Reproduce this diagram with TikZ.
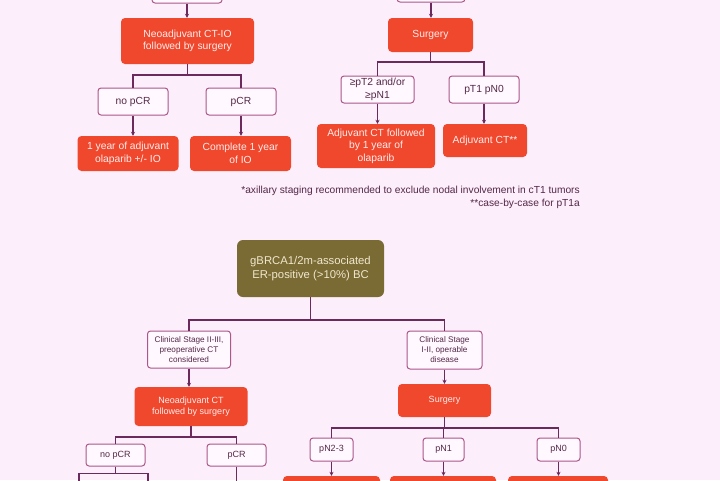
\documentclass[tikz,border=0pt]{standalone}
\usepackage{fontspec}
\setmainfont{Liberation Sans}
\usetikzlibrary{arrows.meta}
\definecolor{bgc}{RGB}{252,238,250}
\definecolor{redc}{RGB}{240,72,45}
\definecolor{bordc}{RGB}{172,86,138}
\definecolor{linec}{RGB}{108,42,92}
\definecolor{olivec}{RGB}{122,106,52}
\definecolor{olivetxt}{RGB}{240,232,205}
\definecolor{wtxt}{RGB}{84,40,72}
\definecolor{wfill}{RGB}{255,248,254}
\definecolor{rtxt}{RGB}{255,236,236}
\tikzset{
  wbox/.style={draw=bordc, fill=wfill, rounded corners=3pt, line width=1pt, text=wtxt, align=center, inner sep=0pt},
  rbox/.style={fill=redc, rounded corners=4pt, text=rtxt, align=center, inner sep=0pt},
  obox/.style={fill=olivec, rounded corners=6pt, text=olivetxt, align=center, inner sep=0pt},
  conn/.style={draw=linec, line width=1.5pt},
  arr/.style={conn, -{Stealth[length=4pt,width=4pt]}},
  ftop/.style={font=\fontsize{10.3}{12.6}\selectfont},
  folive/.style={font=\fontsize{11.3}{14}\selectfont},
  fcl/.style={font=\fontsize{8.2}{10}\selectfont},
  fbot/.style={font=\fontsize{9}{11}\selectfont},
  fn/.style={font=\fontsize{10.2}{13}\selectfont, text=wtxt, align=right, inner sep=0pt}
}
\begin{document}
\begin{tikzpicture}[x=1pt,y=-1pt]
\useasboundingbox (0,0) rectangle (720,480);
\clip (0,0) rectangle (720,480);
\fill[bgc] (0,0) rectangle (720,480);
% ---------- top tree ----------
\node[wbox, minimum width=70pt, minimum height=26pt] (T1) at (187,-10) {};
\node[wbox, minimum width=68pt, minimum height=26pt] (T2) at (431,-11) {};
\node[rbox, ftop, minimum width=133pt, minimum height=46pt] (A) at (187.5,41) {Neoadjuvant CT-IO\\followed by surgery};
\node[rbox, ftop, minimum width=85pt, minimum height=34pt] (B) at (430.5,35) {Surgery};
\node[wbox, ftop, minimum width=70pt, minimum height=27pt] (A1) at (133,101.5) {no pCR};
\node[wbox, ftop, minimum width=70pt, minimum height=27pt] (A2) at (241,101.5) {pCR};
\node[rbox, ftop, minimum width=101pt, minimum height=35pt] (A1c) at (128,153.5) {1 year of adjuvant\\olaparib +/- IO};
\node[rbox, ftop, minimum width=101pt, minimum height=35pt] (A2c) at (240.5,153.5) {Complete 1 year\\of IO};
\node[wbox, ftop, minimum width=73pt, minimum height=27pt] (B1) at (377.5,89.5) {≥pT2 and/or\\≥pN1};
\node[wbox, ftop, minimum width=70pt, minimum height=27pt] (B2) at (484,89.5) {pT1 pN0};
\node[rbox, ftop, minimum width=118pt, minimum height=44pt] (B1c) at (376,146) {Adjuvant CT followed\\by 1 year of\\olaparib};
\node[rbox, ftop, minimum width=84pt, minimum height=33pt] (B2c) at (485,140.5) {Adjuvant CT**};
\draw[arr] (T1.south) -- (T1.south |- A.north);
\draw[arr] (T2.south) -- (T2.south |- B.north);
\draw[conn] (A.south) -- ++(0,11) -| (A1.north);
\draw[conn] (A.south) -- ++(0,11) -| (A2.north);
\draw[conn] (B.south) -- ++(0,10) -| (B1.north);
\draw[conn] (B.south) -- ++(0,10) -| (B2.north);
\draw[arr] (A1.south) -- (A1.south |- A1c.north);
\draw[arr] (A2.south) -- (A2.south |- A2c.north);
\draw[arr] (B1.south) -- (B1.south |- B1c.north);
\draw[arr] (B2.south) -- (B2.south |- B2c.north);
% footnotes
\node[fn, anchor=north east] (fnote) at (580,186) {*axillary staging recommended to exclude nodal involvement in cT1 tumors\\**case-by-case for pT1a};
% ---------- bottom tree ----------
\node[obox, folive, minimum width=147pt, minimum height=57pt] (C) at (310.5,268.5) {gBRCA1/2m-associated\\ER-positive (>10\%) BC};
\node[wbox, fcl, minimum width=83pt, minimum height=37pt] (C1) at (189,349.5) {Clinical Stage II-III,\\preoperative CT\\considered};
\node[wbox, fcl, minimum width=75pt, minimum height=38pt] (C2) at (444.5,350) {Clinical Stage\\I-II, operable\\disease};
\node[rbox, fbot, minimum width=113pt, minimum height=39pt] (D) at (191,406.5) {Neoadjuvant CT\\followed by surgery};
\node[rbox, fbot, minimum width=93pt, minimum height=33pt] (E) at (444.5,400.5) {Surgery};
\node[wbox, fbot, minimum width=59pt, minimum height=22pt] (D1) at (115.5,455) {no pCR};
\node[wbox, fbot, minimum width=59pt, minimum height=22pt] (D2) at (236.5,455) {pCR};
\node[wbox, fbot, minimum width=43pt, minimum height=23pt] (E1) at (331.5,449.5) {pN2-3};
\node[wbox, fbot, minimum width=41pt, minimum height=23pt] (E2) at (443.5,449.5) {pN1};
\node[wbox, fbot, minimum width=43pt, minimum height=23pt] (E3) at (558.5,449.5) {pN0};
\node[rbox, minimum width=97pt, minimum height=30pt] (E1c) at (331.5,491) {};
\node[rbox, minimum width=106pt, minimum height=30pt] (E2c) at (443,491) {};
\node[rbox, minimum width=100pt, minimum height=30pt] (E3c) at (558,491) {};
\coordinate (d1l) at (79,495);
\coordinate (d1r) at (148,495);
\coordinate (d2b) at (236.5,495);
\draw[conn] (C.south) -- ++(0,23) -| (C1.north);
\draw[conn] (C.south) -- ++(0,23) -| (C2.north);
\draw[arr] (C1.south) -- (C1.south |- D.north);
\draw[arr] (C2.south) -- (C2.south |- E.north);
\draw[conn] (D.south) -- ++(0,11) -| (D1.north);
\draw[conn] (D.south) -- ++(0,11) -| (D2.north);
\draw[conn] (E.south) -- ++(0,11) -| (E1.north);
\draw[conn] (E.south) -- ++(0,11) -| (E2.north);
\draw[conn] (E.south) -- ++(0,11) -| (E3.north);
\draw[arr] (E1.south) -- (E1.south |- E1c.north);
\draw[arr] (E2.south) -- (E2.south |- E2c.north);
\draw[arr] (E3.south) -- (E3.south |- E3c.north);
\draw[conn] (D1.south) -- ++(0,7) -| (d1l);
\draw[conn] (D1.south) -- ++(0,7) -| (d1r);
\draw[conn] (D2.south) -- (d2b);
\end{tikzpicture}
\end{document}
